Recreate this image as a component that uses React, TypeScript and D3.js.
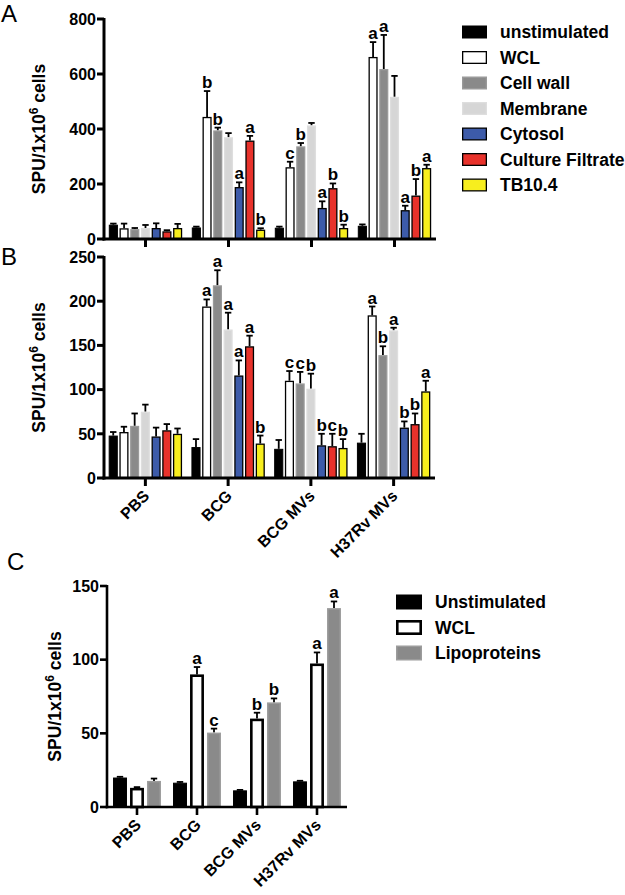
import React from "react";
import * as d3 from "d3";

// ---------- Data ----------
const categories = ["PBS", "BCG", "BCG MVs", "H37Rv MVs"];

// Panel A
const seriesA = ["unstimulated", "WCL", "Cell wall", "Membrane", "Cytosol", "Culture Filtrate", "TB10.4"];
const aUnstim = [52, 42, 41, 48];
const aWCL = [39, 444, 261, 662];
const aCellWall = [36, 395, 337, 618];
const aMembrane = [40, 370, 413, 517];
const aCytosol = [40, 189, 113, 105];
const aCF = [28, 358, 185, 158];
const aTB = [40, 34, 40, 258];
const aErrUnstim = [4, 3, 4, 5];
const aErrWCL = [17, 94, 20, 54];
const aErrCellWall = [4, 10, 12, 124];
const aErrMembrane = [11, 15, 9, 76];
const aErrCytosol = [17, 17, 24, 16];
const aErrCF = [4, 17, 17, 60];
const aErrTB = [15, 5, 12, 12];
const aLetters = [
  ["", "", "", "", "", "", ""],
  ["", "b", "b", "", "a", "a", "b"],
  ["", "c", "b", "", "a", "b", "b"],
  ["", "a", "a", "", "a", "b", "a"],
];
const aTicks = [0, 200, 400, 600, 800];

// Panel B
const bUnstim = [48, 35, 33, 40];
const bWCL = [52, 194, 110, 184];
const bCellWall = [59, 218, 107, 139];
const bMembrane = [75, 168, 101, 167];
const bCytosol = [47, 116, 37, 57];
const bCF = [54, 149, 36, 61];
const bTB = [50, 39, 34, 98];
const bErrUnstim = [4, 9, 10, 10];
const bErrWCL = [6, 8, 11, 10];
const bErrCellWall = [14, 17, 13, 10];
const bErrMembrane = [8, 19, 17, 3];
const bErrCytosol = [10, 17, 13, 7];
const bErrCF = [7, 12, 14, 12];
const bErrTB = [6, 9, 10, 12];
const bLetters = [
  ["", "", "", "", "", "", ""],
  ["", "a", "a", "a", "a", "a", "b"],
  ["", "c", "c", "b", "b", "c", "b"],
  ["", "a", "b", "a", "b", "b", "a"],
];
const bTicks = [0, 50, 100, 150, 200, 250];

// Panel C
const seriesC = ["Unstimulated", "WCL", "Lipoproteins"];
const cUnstim = [20, 16.5, 11.3, 17.4];
const cWCL = [13, 90, 60, 97.4];
const cLipo = [17.7, 50.5, 71, 135];
const cErrUnstim = [0.5, 0.5, 0.3, 0.4];
const cErrWCL = [0.5, 5, 4, 7.5];
const cErrLipo = [1.6, 2.7, 2.7, 4.5];
const cLetters = [
  ["", "", ""],
  ["", "a", "c"],
  ["", "b", "b"],
  ["", "a", "a"],
];
const cTicks = [0, 50, 100, 150];

// ---------- Styles ----------
const FONT = "Arial, 'Liberation Sans', Helvetica, sans-serif";
type Sty = { fill: string; stroke: string; sw: number };
const stylesA: Sty[] = [
  { fill: "#000000", stroke: "#000000", sw: 1 },
  { fill: "#ffffff", stroke: "#000000", sw: 1.3 },
  { fill: "#8a8a8a", stroke: "#9a9a9a", sw: 1.3 },
  { fill: "#d6d6d6", stroke: "#dedede", sw: 1.3 },
  { fill: "#3d5ba9", stroke: "#000000", sw: 1.3 },
  { fill: "#e8322b", stroke: "#000000", sw: 1.3 },
  { fill: "#f7ee1e", stroke: "#000000", sw: 1.3 },
];
const stylesC: Sty[] = [
  { fill: "#000000", stroke: "#000000", sw: 1 },
  { fill: "#ffffff", stroke: "#000000", sw: 2.6 },
  { fill: "#8a8a8a", stroke: "#9c9c9c", sw: 1.5 },
];

type PanelProps = {
  x0: number; x1: number; zero: number; top: number; max: number;
  ticks: number[];
  values: number[][]; // [series][category]
  errors: number[][];
  letters: string[][]; // [category][series]
  styles: Sty[];
  innerHalf: number; pad: number;
  axisW: number;
  showLabels: boolean;
  labelX: number;
  tickFont: number;
  catFont: number;
};

function Panel(p: PanelProps) {
  const y = d3.scaleLinear().domain([0, p.max]).range([p.zero, p.top]);
  const x = d3.scaleBand<string>().domain(categories).range([p.x0, p.x1]).padding(0);
  const nS = p.values.length;
  const inner = d3.scaleBand<number>().domain(d3.range(nS)).range([-p.innerHalf, p.innerHalf]).paddingInner(p.pad).paddingOuter(p.pad / 2);
  const cx = (c: string) => (x(c) as number) + x.bandwidth() / 2;
  const midY = (p.zero + p.top) / 2;
  return (
    <g>
      {categories.map((c, ci) =>
        p.values.map((vals, si) => {
          const st = p.styles[si];
          const bx = cx(c) + (inner(si) as number);
          const bw = inner.bandwidth();
          const v = vals[ci];
          const e = p.errors[si][ci];
          const yTop = y(v);
          const yErr = y(v + e);
          const mid = bx + bw / 2;
          const letter = p.letters[ci][si];
          return (
            <g key={c + si}>
              <line x1={mid} x2={mid} y1={yTop} y2={yErr} stroke="#000" strokeWidth={1.8} />
              <line x1={mid - 3.2} x2={mid + 3.2} y1={yErr} y2={yErr} stroke="#000" strokeWidth={1.8} />
              <rect x={bx + st.sw / 2} y={yTop + st.sw / 2} width={bw - st.sw} height={Math.max(0, p.zero - yTop - st.sw / 2)} fill={st.fill} stroke={st.stroke} strokeWidth={st.sw} />
              {letter && (
                <text x={mid} y={yErr - 3} textAnchor="middle" fontFamily={FONT} fontWeight="bold" fontSize={17}>{letter}</text>
              )}
            </g>
          );
        })
      )}
      {/* y axis */}
      <line x1={p.x0} x2={p.x0} y1={p.top - 1} y2={p.zero + p.axisW / 2} stroke="#000" strokeWidth={p.axisW} />
      {p.ticks.map((t) => (
        <g key={t}>
          <line x1={p.x0 - 7} x2={p.x0} y1={y(t)} y2={y(t)} stroke="#000" strokeWidth={p.axisW} />
          <text x={p.x0 - 8} y={y(t)} dy="0.36em" textAnchor="end" fontFamily={FONT} fontWeight="bold" fontSize={p.tickFont}>{t}</text>
        </g>
      ))}
      {/* x axis */}
      <line x1={p.x0 - p.axisW / 2} x2={p.x1} y1={p.zero} y2={p.zero} stroke="#000" strokeWidth={p.axisW} />
      {categories.map((c) => (
        <g key={c}>
          <line x1={cx(c)} x2={cx(c)} y1={p.zero} y2={p.zero + 8} stroke="#000" strokeWidth={p.axisW} />
          {p.showLabels && (
            <text transform={`translate(${cx(c) + 5},${p.zero + 19}) rotate(-45)`} textAnchor="end" fontFamily={FONT} fontWeight="bold" fontSize={p.catFont}>{c}</text>
          )}
        </g>
      ))}
      {/* y label */}
      <text transform={`translate(${p.labelX},${midY}) rotate(-90)`} textAnchor="middle" fontFamily={FONT} fontWeight="bold" fontSize={17.5}>
        SPU/1x10<tspan dy={-7} fontSize={12}>6</tspan><tspan dy={7}> cells</tspan>
      </text>
    </g>
  );
}

function Legend({ x, y0, step, w, h, names, styles, textX }: { x: number; y0: number; step: number; w: number; h: number; names: string[]; styles: Sty[]; textX: number }) {
  return (
    <g>
      {names.map((n, i) => {
        const cy = y0 + i * step;
        const st = styles[i];
        return (
          <g key={n}>
            <rect x={x + st.sw / 2} y={cy - h / 2 + st.sw / 2} width={w - st.sw} height={h - st.sw} fill={st.fill} stroke={st.stroke} strokeWidth={st.sw} />
            <text x={textX} y={cy + 6} fontFamily={FONT} fontWeight="bold" fontSize={17.5}>{n}</text>
          </g>
        );
      })}
    </g>
  );
}

export default function App() {
  return (
    <svg width={625} height={895} style={{ position: "absolute", left: 0, top: 0, background: "#fff" }}>
      <rect width={625} height={895} fill="#fff" />
      <text x={1} y={22} fontFamily={FONT} fontSize={24}>A</text>
      <text x={1} y={265} fontFamily={FONT} fontSize={24}>B</text>
      <text x={7} y={570} fontFamily={FONT} fontSize={24}>C</text>
      <Panel x0={104} x1={436} zero={239} top={19} max={800} ticks={aTicks}
        values={[aUnstim, aWCL, aCellWall, aMembrane, aCytosol, aCF, aTB]}
        errors={[aErrUnstim, aErrWCL, aErrCellWall, aErrMembrane, aErrCytosol, aErrCF, aErrTB]}
        letters={aLetters} styles={stylesA} innerHalf={37.5} pad={0.15} axisW={3} showLabels={false} labelX={45} tickFont={16} catFont={16} />
      <Panel x0={104} x1={435} zero={478} top={257} max={250} ticks={bTicks}
        values={[bUnstim, bWCL, bCellWall, bMembrane, bCytosol, bCF, bTB]}
        errors={[bErrUnstim, bErrWCL, bErrCellWall, bErrMembrane, bErrCytosol, bErrCF, bErrTB]}
        letters={bLetters} styles={stylesA} innerHalf={37.5} pad={0.15} axisW={3} showLabels={true} labelX={45} tickFont={16} catFont={16} />
      <Panel x0={107} x1={347} zero={807} top={586} max={150} ticks={cTicks}
        values={[cUnstim, cWCL, cLipo]}
        errors={[cErrUnstim, cErrWCL, cErrLipo]}
        letters={cLetters} styles={stylesC} innerHalf={25.5} pad={0.18} axisW={2.6} showLabels={true} labelX={61} tickFont={16} catFont={16} />
      <Legend x={462} y0={32} step={25.5} w={25} h={13} names={seriesA} styles={stylesA} textX={500} />
      <Legend x={396} y0={602} step={25.5} w={26} h={15} names={seriesC} styles={stylesC} textX={435} />
    </svg>
  );
}
